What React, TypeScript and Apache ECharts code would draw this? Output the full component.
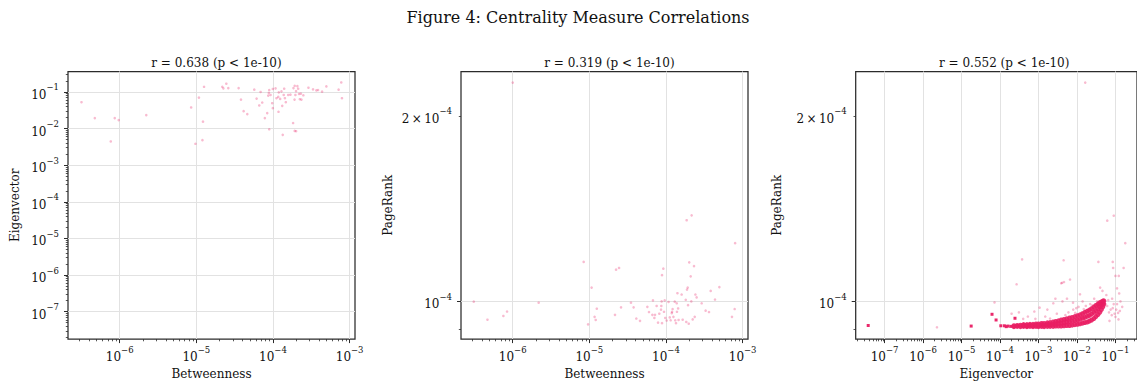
import React, { useEffect, useRef } from 'react';
import * as echarts from 'echarts';

const FONT = 'DejaVu Serif';
const PINK = '#e91e63';

const SUPTITLE = 'Figure 4: Centrality Measure Correlations';
const PANEL_TITLES = ['r = 0.638 (p < 1e-10)', 'r = 0.319 (p < 1e-10)', 'r = 0.552 (p < 1e-10)'];
const X_NAMES = ['Betweenness', 'Betweenness', 'Eigenvector'];
const Y_NAMES = ['Eigenvector', 'PageRank', 'PageRank'];

// axis ranges (real values, log axes)
const BETWEENNESS_RANGE = [2.113e-7, 1.175e-3];
const EIGEN_RANGE = [1.778e-8, 0.363];
const PAGERANK_RANGE = [8.687e-5, 2.3597e-4];

// tick labels
const BETWEENNESS_TICKS = [1e-6, 1e-5, 1e-4, 1e-3];
const EIGEN_TICKS = [1e-7, 1e-6, 1e-5, 1e-4, 1e-3, 1e-2, 1e-1];
const PAGERANK_TICKS = [1e-4];
const PAGERANK_LABELS = [1e-4, 2e-4];
const PAGERANK_MINOR = [9e-5, 2e-4];

// Panel 1: [betweenness, eigenvector]
const betweenEigen: number[][] = [
  [3.17e-7, 0.0526], [4.73e-7, 0.0194], [8.61e-7, 0.0194], [9.7e-7, 0.0171], [7.64e-7, 0.00446],
  [2.22e-6, 0.0234], [8.55e-6, 0.0378], [9.73e-6, 0.00385], [1.08e-5, 0.0703], [1.22e-5, 0.0155],
  [1.2e-5, 0.00484], [1.26e-5, 0.139], [2.18e-5, 0.139], [2.25e-5, 0.126], [2.46e-5, 0.168],
  [2.61e-5, 0.128], [3.56e-5, 0.128], [3.82e-5, 0.0621], [4.14e-5, 0.03], [4.62e-5, 0.0249],
  [5.7e-5, 0.116], [6.11e-5, 0.0661], [6.62e-5, 0.0428], [6.89e-5, 0.1], [7.24e-5, 0.0515],
  [7.83e-5, 0.0194], [8.41e-5, 0.0265], [8.67e-5, 0.0796], [8.83e-5, 0.094], [8.93e-5, 0.113],
  [8.93e-5, 0.00959], [9.29e-5, 0.083], [9.77e-5, 0.0494], [9.95e-5, 0.0362], [9.95e-5, 0.121],
  [1.08e-4, 0.126], [1.11e-4, 0.0675], [1.17e-4, 0.0733], [1.18e-4, 0.0288], [1.19e-4, 0.098],
  [1.24e-4, 0.0647], [1.29e-4, 0.104], [1.32e-4, 0.0419], [1.34e-4, 0.00675], [1.38e-4, 0.083],
  [1.4e-4, 0.123], [1.43e-4, 0.0675], [1.47e-4, 0.0526], [1.58e-4, 0.083], [1.69e-4, 0.0847],
  [1.83e-4, 0.0142], [1.85e-4, 0.128], [1.91e-4, 0.0621], [1.92e-4, 0.148], [1.96e-4, 0.083],
  [2.0e-4, 0.106], [2.08e-4, 0.145], [2.13e-4, 0.123], [2.19e-4, 0.0883], [2.24e-4, 0.0634],
  [1.92e-4, 0.00865], [2.0e-4, 0.00847], [2.35e-4, 0.0621], [2.49e-4, 0.0813], [2.31e-4, 0.0902],
  [2.9e-4, 0.131], [3.33e-4, 0.118], [3.68e-4, 0.111], [3.87e-4, 0.113], [4.37e-4, 0.102],
  [4.97e-4, 0.142], [7.18e-4, 0.116], [7.78e-4, 0.182], [7.94e-4, 0.0675],
];

// Panel 2: [betweenness, pagerank]
const betweenPagerank: number[][] = [
  [3.1e-7, 9.99e-5], [4.68e-7, 9.34e-5], [7.55e-7, 9.47e-5], [8.43e-7, 9.63e-5], [2.18e-6, 9.95e-5],
  [8.43e-6, 1.159e-4], [9.62e-6, 9.18e-5], [1.07e-5, 1.053e-4], [1.17e-5, 9.44e-5], [1.21e-5, 9.33e-5],
  [1.25e-5, 9.73e-5], [2.16e-5, 9.51e-5], [2.23e-5, 1.126e-4], [2.44e-5, 1.133e-4], [2.59e-5, 9.78e-5],
  [3.49e-5, 9.95e-5], [3.78e-5, 9.78e-5], [4.1e-5, 9.38e-5], [4.58e-5, 9.3e-5], [5.71e-5, 9.8e-5],
  [6.0e-5, 9.61e-5], [6.64e-5, 9.51e-5], [6.76e-5, 1.004e-4], [7.05e-5, 9.4e-5], [7.19e-5, 9.51e-5],
  [7.55e-5, 9.83e-5], [7.87e-5, 9.24e-5], [8.18e-5, 9.55e-5], [8.61e-5, 9.7e-5], [8.69e-5, 9.83e-5],
  [8.77e-5, 1.0e-4], [8.87e-5, 1.103e-4], [8.87e-5, 9.22e-5], [9.23e-5, 1.13e-4], [9.42e-5, 9.62e-5],
  [9.62e-5, 1.004e-4], [9.79e-5, 9.4e-5], [1.02e-4, 9.31e-5], [1.08e-4, 9.98e-5], [1.12e-4, 9.42e-5],
  [1.15e-4, 9.32e-5], [1.19e-4, 9.57e-5], [1.2e-4, 9.62e-5], [1.22e-4, 9.72e-5], [1.25e-4, 9.44e-5],
  [1.3e-4, 9.99e-5], [1.32e-4, 9.32e-5], [1.35e-4, 9.22e-5], [1.38e-4, 9.93e-5], [1.39e-4, 9.62e-5],
  [1.41e-4, 1.031e-4], [1.44e-4, 9.74e-5], [1.46e-4, 9.33e-5], [1.6e-4, 1.026e-4], [1.65e-4, 9.34e-5],
  [1.81e-4, 1.006e-4], [1.84e-4, 9.26e-5], [1.88e-4, 1.045e-4], [1.92e-4, 1.053e-4], [1.94e-4, 9.86e-5],
  [1.98e-4, 9.2e-5], [2.01e-4, 1.157e-4], [2.1e-4, 1.098e-4], [2.14e-4, 1.0e-4], [2.23e-4, 9.35e-5],
  [2.32e-4, 1.141e-4], [2.37e-4, 9.44e-5], [2.42e-4, 1.026e-4], [2.51e-4, 1.015e-4], [2.92e-4, 9.93e-5],
  [3.29e-4, 9.66e-5], [3.64e-4, 9.61e-5], [3.83e-4, 1.04e-4], [4.36e-4, 1.007e-4], [4.97e-4, 1.055e-4],
  [7.26e-4, 9.44e-5], [7.87e-4, 9.72e-5], [1.0e-6, 2.264e-4], [2.16e-4, 1.379e-4], [1.86e-4, 1.354e-4],
  [7.98e-4, 1.243e-4],
];

// Panel 3: [eigenvector, pagerank] — scattered nodes
const eigenPagerankSparse: number[][] = [
  [2.3e-6, 9.08e-5], [7.2e-5, 9.96e-5], [2.7e-4, 1.066e-4], [2.0e-4, 9.55e-5], [3.1e-4, 9.6e-5],
  [4.0e-4, 9.37e-5], [5.3e-4, 9.45e-5], [7.8e-4, 9.63e-5], [8.3e-4, 9.37e-5], [1.07e-3, 9.77e-5],
  [1.7e-3, 9.7e-5], [2.43e-3, 9.93e-5], [2.75e-3, 1.01e-4], [3.9e-3, 1.07e-4], [4.6e-3, 1.075e-4],
  [6.6e-3, 1.085e-4], [4.2e-3, 1.0e-4], [5.5e-3, 1.01e-4], [7.9e-3, 9.95e-5], [9.6e-3, 9.75e-5],
  [1.2e-2, 1.027e-4], [1.4e-2, 1.0e-4], [1.7e-2, 9.83e-5], [1.3e-2, 9.58e-5], [1.9e-2, 9.62e-5],
  [2.8e-2, 1.01e-4], [4.0e-2, 1.053e-4], [4.6e-2, 1.04e-4], [5.8e-2, 1.024e-4], [6.1e-2, 9.83e-5],
  [6.8e-2, 9.6e-5], [8.2e-2, 1.01e-4], [8.5e-2, 9.75e-5], [0.1, 9.44e-5], [0.117, 9.58e-5],
  [0.11, 1.05e-4], [0.125, 1.03e-4], [0.135, 1.0e-4], [0.085, 1.159e-4], [0.087, 1.133e-4],
  [0.1, 1.1e-4], [0.122, 1.1e-4], [0.163, 1.133e-4], [0.08, 9.5e-5], [0.09, 9.9e-5],
  [0.105, 9.7e-5], [0.12, 9.35e-5], [0.0164, 2.264e-4], [0.0612, 1.352e-4], [0.0904, 1.377e-4],
  [0.18, 1.243e-4], [0.036, 1.159e-4], [3.75e-4, 1.17e-4], [4.5e-3, 1.166e-4], [4.1e-3, 1.072e-4],
  [1.5e-3, 9.45e-5], [3.0e-3, 9.55e-5], [6.0e-3, 9.6e-5], [8.0e-3, 9.7e-5], [1.1e-2, 9.8e-5],
  [2.2e-2, 9.9e-5], [3.3e-2, 1.0e-4], [0.07, 9.3e-5], [0.095, 9.55e-5], [0.15, 9.8e-5],
  [2.0e-3, 9.38e-5], [5.0e-3, 9.5e-5], [9.0e-3, 9.58e-5], [1.5e-2, 9.72e-5], [2.5e-2, 9.85e-5],
  [6.5e-2, 1.005e-4], [7.5e-2, 9.7e-5], [0.11, 9.9e-5], [0.13, 9.65e-5],
];

// Panel 3: isolated spots where many nodes overlap
const eigenPagerankStacked: number[][] = [
  [3.76e-8, 9.14e-5], [1.78e-5, 9.12e-5], [6.2e-5, 9.53e-5], [7.9e-5, 9.33e-5], [1.05e-4, 9.13e-5],
  [1.3e-4, 9.13e-5], [1.45e-4, 9.1e-5], [2.45e-4, 9.39e-5], [1.6e-4, 9.12e-5], [1.9e-4, 9.11e-5],
];

// Panel 3: the dense band of nodes
const eigenPagerankBand: number[][] = [
  [2.3e-4, 9.1e-5], [2.3e-4, 9.13e-5], [2.8e-4, 9.11e-5], [2.8e-4, 9.14e-5], [3.4e-4, 9.1e-5],
  [3.4e-4, 9.15e-5], [4.1e-4, 9.11e-5], [4.1e-4, 9.14e-5], [4.1e-4, 9.17e-5], [5.0e-4, 9.1e-5],
  [5.0e-4, 9.13e-5], [5.0e-4, 9.17e-5], [6.0e-4, 9.11e-5], [6.0e-4, 9.15e-5], [6.0e-4, 9.18e-5],
  [7.2e-4, 9.1e-5], [7.2e-4, 9.14e-5], [7.2e-4, 9.18e-5], [8.6e-4, 9.11e-5], [8.6e-4, 9.15e-5],
  [8.6e-4, 9.19e-5], [1.0e-3, 9.1e-5], [1.0e-3, 9.14e-5], [1.0e-3, 9.19e-5], [1.2e-3, 9.11e-5],
  [1.2e-3, 9.16e-5], [1.2e-3, 9.21e-5], [1.4e-3, 9.1e-5], [1.4e-3, 9.15e-5], [1.4e-3, 9.21e-5],
  [1.7e-3, 9.11e-5], [1.7e-3, 9.17e-5], [1.7e-3, 9.23e-5], [2.0e-3, 9.11e-5], [2.0e-3, 9.17e-5],
  [2.0e-3, 9.24e-5], [2.4e-3, 9.11e-5], [2.4e-3, 9.18e-5], [2.4e-3, 9.26e-5], [2.8e-3, 9.12e-5],
  [2.8e-3, 9.19e-5], [2.8e-3, 9.28e-5], [3.3e-3, 9.12e-5], [3.3e-3, 9.21e-5], [3.3e-3, 9.3e-5],
  [3.9e-3, 9.12e-5], [3.9e-3, 9.22e-5], [3.9e-3, 9.33e-5], [4.6e-3, 9.13e-5], [4.6e-3, 9.24e-5],
  [4.6e-3, 9.35e-5], [5.4e-3, 9.14e-5], [5.4e-3, 9.26e-5], [5.4e-3, 9.37e-5], [6.4e-3, 9.14e-5],
  [6.4e-3, 9.27e-5], [6.4e-3, 9.4e-5], [7.5e-3, 9.15e-5], [7.5e-3, 9.29e-5], [7.5e-3, 9.42e-5],
  [8.8e-3, 9.17e-5], [8.8e-3, 9.31e-5], [8.8e-3, 9.45e-5], [1.03e-2, 9.18e-5], [1.03e-2, 9.33e-5],
  [1.03e-2, 9.48e-5], [1.2e-2, 9.2e-5], [1.2e-2, 9.36e-5], [1.2e-2, 9.51e-5], [1.4e-2, 9.22e-5],
  [1.4e-2, 9.39e-5], [1.4e-2, 9.55e-5], [1.6e-2, 9.24e-5], [1.6e-2, 9.42e-5], [1.6e-2, 9.6e-5],
  [1.85e-2, 9.26e-5], [1.85e-2, 9.46e-5], [1.85e-2, 9.64e-5], [2.1e-2, 9.29e-5], [2.1e-2, 9.49e-5],
  [2.1e-2, 9.68e-5], [2.4e-2, 9.33e-5], [2.4e-2, 9.54e-5], [2.4e-2, 9.73e-5], [2.75e-2, 9.38e-5],
  [2.75e-2, 9.6e-5], [2.75e-2, 9.79e-5], [3.1e-2, 9.45e-5], [3.1e-2, 9.66e-5], [3.1e-2, 9.85e-5],
  [3.5e-2, 9.52e-5], [3.5e-2, 9.73e-5], [3.5e-2, 9.9e-5], [3.9e-2, 9.6e-5], [3.9e-2, 9.8e-5],
  [3.9e-2, 9.95e-5], [4.3e-2, 9.7e-5], [4.3e-2, 9.86e-5], [4.3e-2, 9.98e-5], [4.7e-2, 9.8e-5],
  [4.7e-2, 9.93e-5], [4.7e-2, 1.001e-4], [5.0e-2, 9.9e-5], [5.0e-2, 1.002e-4],
];

function minorTicks(loExp: number, hiExp: number): number[] {
  const out: number[] = [];
  for (let e = loExp; e <= hiExp; e++) {
    for (let m = 2; m <= 9; m++) out.push(Number((m * Math.pow(10, e)).toPrecision(3)));
  }
  return out;
}

const sciLabel = (v: number) => {
  const e = Math.floor(Math.log10(v) + 1e-9);
  const m = Math.round(v / Math.pow(10, e));
  const exp = e < 0 ? '\u2212' + -e : String(e);
  return (m === 1 ? '{b|10}' : `{b|${m}\u2009\u00d7\u200910}`) + `{s|${exp}}`;
};

const TEXT_COLOR = '#111';
const rich = {
  b: { fontFamily: FONT, fontSize: 12, color: TEXT_COLOR, lineHeight: 18, verticalAlign: 'bottom' },
  s: { fontFamily: FONT, fontSize: 8.5, color: TEXT_COLOR, lineHeight: 9, verticalAlign: 'top' },
};

const AXIS_COLOR = '#2b2b2b';
const GRID_COLOR = '#e2e2e2';

const PANELS = [
  { left: 68, x: BETWEENNESS_RANGE, y: EIGEN_RANGE, xt: BETWEENNESS_TICKS, yt: EIGEN_TICKS, yl: EIGEN_TICKS,
    xm: minorTicks(-7, -3), ym: minorTicks(-8, -1), yGap: 47 },
  { left: 461, x: BETWEENNESS_RANGE, y: PAGERANK_RANGE, xt: BETWEENNESS_TICKS, yt: PAGERANK_TICKS, yl: PAGERANK_LABELS,
    xm: minorTicks(-7, -3), ym: PAGERANK_MINOR, yGap: 67 },
  { left: 855.7, x: EIGEN_RANGE, y: PAGERANK_RANGE, xt: EIGEN_TICKS, yt: PAGERANK_TICKS, yl: PAGERANK_LABELS,
    xm: minorTicks(-8, -1), ym: PAGERANK_MINOR, yGap: 73 },
];

export default function App() {
  const ref = useRef<HTMLDivElement>(null);
  useEffect(() => {
    if (!ref.current) return;
    const chart = echarts.init(ref.current, undefined, { renderer: 'svg' });
    const W = 287;
    const grids: any[] = [];
    const xAxes: any[] = [];
    const yAxes: any[] = [];
    const titles: any[] = [
      { text: SUPTITLE, left: 573, top: 4, textAlign: 'center',
        textStyle: { fontFamily: FONT, fontSize: 16, fontWeight: 'normal', color: TEXT_COLOR } },
    ];
    PANELS.forEach((p, i) => {
      grids.push({ left: p.left, top: 71.5, width: W, height: 269.5, show: true,
        borderColor: AXIS_COLOR, borderWidth: 1.25, backgroundColor: 'transparent' });
      titles.push({ text: PANEL_TITLES[i], left: p.left + W / 2, top: 52, textAlign: 'center',
        textStyle: { fontFamily: FONT, fontSize: 12, fontWeight: 'normal', color: TEXT_COLOR } });
      xAxes.push({
        type: 'log', gridIndex: i, position: 'bottom', min: p.x[0], max: p.x[1],
        axisLine: { show: false },
        axisTick: { show: true, customValues: p.xt, length: 4, lineStyle: { color: AXIS_COLOR, width: 1 } },
        axisLabel: { customValues: p.xt, formatter: sciLabel, rich, margin: 6 },
        splitLine: { show: true, lineStyle: { color: GRID_COLOR, width: 1 } },
        name: X_NAMES[i], nameLocation: 'middle', nameGap: 25,
        nameTextStyle: { fontFamily: FONT, fontSize: 12, color: TEXT_COLOR },
      });
      xAxes.push({
        type: 'log', gridIndex: i, position: 'bottom', min: p.x[0], max: p.x[1],
        axisLine: { show: false },
        axisTick: { show: true, customValues: p.xm, length: 2.2, lineStyle: { color: AXIS_COLOR, width: 0.8 } },
        axisLabel: { show: false },
        splitLine: { show: false },
      });
      yAxes.push({
        type: 'log', gridIndex: i, position: 'left', min: p.y[0], max: p.y[1],
        axisLine: { show: false },
        axisTick: { show: true, customValues: p.yt, length: 4, lineStyle: { color: AXIS_COLOR, width: 1 } },
        axisLabel: { customValues: p.yl, formatter: sciLabel, rich, margin: 9 },
        splitLine: { show: true, lineStyle: { color: GRID_COLOR, width: 1 } },
        name: Y_NAMES[i], nameLocation: 'middle', nameGap: p.yGap, nameRotate: 90,
        nameTextStyle: { fontFamily: FONT, fontSize: 12, color: TEXT_COLOR },
      });
      yAxes.push({
        type: 'log', gridIndex: i, position: 'left', min: p.y[0], max: p.y[1],
        axisLine: { show: false },
        axisTick: { show: true, customValues: p.ym, length: 2.2, lineStyle: { color: AXIS_COLOR, width: 0.8 } },
        axisLabel: { show: false },
        splitLine: { show: false },
      });
    });
    const sparse = { symbolSize: 2.6, itemStyle: { color: PINK, opacity: 0.3 } };
    const series: any[] = [
      { type: 'scatter', xAxisIndex: 0, yAxisIndex: 0, data: betweenEigen, ...sparse },
      { type: 'scatter', xAxisIndex: 2, yAxisIndex: 2, data: betweenPagerank, ...sparse },
      { type: 'scatter', xAxisIndex: 4, yAxisIndex: 4, data: eigenPagerankSparse, ...sparse },
      { type: 'scatter', xAxisIndex: 4, yAxisIndex: 4, data: eigenPagerankStacked, symbol: 'rect', symbolSize: 3,
        itemStyle: { color: PINK, opacity: 0.95 } },
      { type: 'scatter', xAxisIndex: 4, yAxisIndex: 4, data: eigenPagerankBand, symbolSize: 5,
        itemStyle: { color: PINK, opacity: 0.9 } },
    ];
    chart.setOption({
      animation: false,
      backgroundColor: '#fff',
      title: titles,
      grid: grids,
      xAxis: xAxes,
      yAxis: yAxes,
      series,
    });
    return () => chart.dispose();
  }, []);
  return (
    <div style={{ position: 'absolute', left: 0, top: 0, width: 1137, height: 385, overflow: 'hidden' }}>
      <div ref={ref} style={{ width: 1137, height: 385 }} />
    </div>
  );
}
